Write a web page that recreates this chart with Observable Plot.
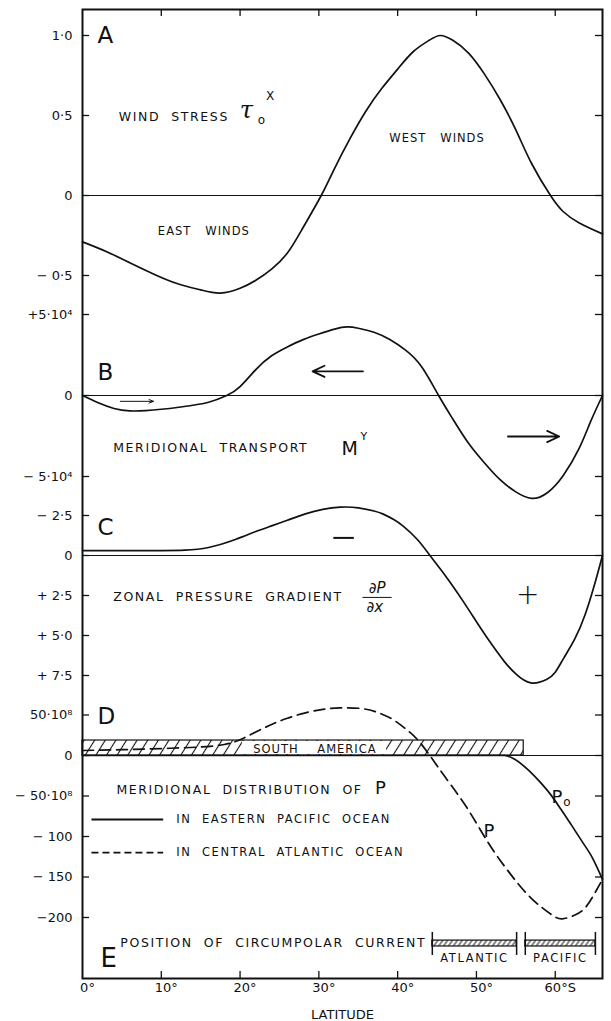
<!DOCTYPE html>
<html><head><meta charset="utf-8">
<script src="https://cdn.jsdelivr.net/npm/d3@7"></script>
<script src="https://cdn.jsdelivr.net/npm/@observablehq/plot@0.6"></script>
<style>
html,body{margin:0;padding:0;background:#fff;}
#chart{position:relative;width:611px;height:1021px;overflow:hidden;}
#chart svg{position:absolute;left:0;top:0;}
#chart text{white-space:pre;}
.ann text{letter-spacing:1.6px;}
.ann2 text{letter-spacing:1px;}
</style></head><body><div id="chart"></div>
<script>
// ---------- shared latitude axis ----------
const latTicks = [0, 10, 20, 30, 40, 50, 60];
const latTickLabels = ["0°", "10°", "20°", "30°", "40°", "50°", "60°S"];

// ---------- A: wind stress ----------
const ticksA = [1, 0.5, 0, -0.5];
const labelsA = ["1·0", "0·5", "0", "− 0·5"];
const latA = [0, 3, 6, 9, 12, 15, 17.5, 20, 22, 24, 26, 28, 30.3, 32, 34, 36, 38, 40, 42, 44, 45.4, 47, 49, 51, 53, 55, 57, 59.4, 61, 63, 66];
const tauA = [-0.29, -0.35, -0.42, -0.49, -0.55, -0.59, -0.61, -0.58, -0.53, -0.46, -0.36, -0.2, 0, 0.17, 0.36, 0.53, 0.67, 0.79, 0.9, 0.97, 1.0, 0.97, 0.89, 0.76, 0.6, 0.41, 0.2, 0, -0.1, -0.17, -0.24];

// ---------- B: meridional transport (10^4) ----------
const ticksB = [5, 0, -5];
const labelsB = ["+5·10⁴", "0", "− 5·10⁴"];
const latB = [0, 2, 4, 6, 8, 10, 12, 14, 16, 18.3, 20, 22, 24, 26, 28, 30, 32, 33.6, 35, 37, 39, 41, 43, 45.2, 47, 49, 51, 53, 55, 57, 59, 61, 63, 64.5, 66];
const transB = [0, -0.45, -0.8, -0.95, -0.93, -0.85, -0.74, -0.6, -0.42, 0, 0.55, 1.6, 2.45, 3.0, 3.45, 3.8, 4.1, 4.23, 4.15, 3.9, 3.45, 2.8, 1.8, 0, -1.45, -2.95, -4.15, -5.2, -5.95, -6.35, -6.0, -4.95, -3.3, -1.6, 0];

// ---------- C: zonal pressure gradient ----------
const ticksC = [-2.5, 0, 2.5, 5, 7.5];
const labelsC = ["− 2·5", "0", "+ 2·5", "+ 5·0", "+ 7·5"];
const latC = [0, 5, 10, 13, 16, 19.4, 22, 24, 26, 28.3, 30.5, 32.7, 35, 37, 38.1, 39.5, 40.7, 42.5, 44.1, 46.1, 48.3, 50.5, 52, 53.5, 55, 56.9, 58.9, 60, 61.1, 62.5, 63.8, 65, 66];
const gradC = [-0.31, -0.31, -0.31, -0.33, -0.5, -1.0, -1.5, -1.85, -2.2, -2.6, -2.88, -3.02, -2.98, -2.78, -2.6, -2.25, -1.83, -1.0, 0, 1.29, 2.85, 4.52, 5.6, 6.6, 7.4, 7.96, 7.75, 7.3, 6.4, 5.2, 3.69, 1.8, 0];

// ---------- D: meridional distribution of P (10^8) ----------
const ticksD = [50, 0, -50, -100, -150, -200];
const labelsD = ["50·10⁸", "0", "− 50·10⁸", "− 100", "− 150", "−200"];
const latAtl = [0, 5, 10, 15, 18, 20, 22, 24, 26, 28.3, 30.5, 32.7, 35.4, 37.5, 39.4, 41, 42.5, 44.3, 46.1, 48.8, 51.5, 54.2, 56.9, 59.5, 60.9, 62.5, 63.8, 64.9, 66];
const pAtl = [6.2, 7.2, 8.6, 10.5, 13.6, 19.5, 29, 38.3, 46, 52.7, 57, 58.8, 58, 53, 44.4, 33, 19.8, -2.9, -27.6, -64.6, -107.8, -144.9, -175.7, -196.3, -201.6, -197, -188, -172, -153];
const latPac = [0, 53.6, 54.9, 56.7, 58, 59.4, 60.7, 62, 63.4, 64.7, 66];
const pPac = [0, 0, -5, -19, -32, -48, -66, -85, -106, -126, -153];
const southAmerica = [0, 56];

// ---------- E: position of circumpolar current ----------
const oceans = ["ATLANTIC", "PACIFIC"];
const currentStart = [44.4, 56.2];
const currentEnd = [55.1, 65.1];

// ---------- layout ----------
const W = 611, H = 1021, ML = 82, MR = 9, MT = 9, MB = 43;
const FW = W - ML - MR, FH = H - MT - MB;
const FONT = "'DejaVu Sans', sans-serif";

function panel(y, marks) {
  return Plot.plot({
    width: W, height: H, marginLeft: ML, marginRight: MR, marginTop: MT, marginBottom: MB,
    x: {domain: [0, 66], axis: null},
    y: {...y, axis: null},
    style: {background: "transparent", fontFamily: FONT, fontSize: "13px", color: "#111", overflow: "visible"},
    marks
  });
}
function yMarks(ticks, labels) {
  return [
    Plot.axisY(ticks, {anchor: "left", tickSize: 0, tickPadding: 10, tickFormat: d => labels[ticks.indexOf(d)], fontSize: 13}),
    Plot.tickY(ticks, {insetRight: FW - 7, strokeWidth: 1.3}),
    Plot.tickY(ticks, {insetLeft: FW - 7, strokeWidth: 1.3})
  ];
}
const txt = (s, o) => Plot.text([s], {text: d => d, fill: "#111", ...o});
const curveW = 1.7;
const CURVE = "natural";

const A = panel({domain: [0, 1], range: [195, 35]}, [
  Plot.frame({strokeWidth: 2}),
  Plot.tickX(latTicks.slice(1), {insetBottom: FH - 7, strokeWidth: 1.3}),
  Plot.tickX(latTicks.slice(1), {insetTop: FH - 7, strokeWidth: 1.3}),
  Plot.axisX(latTicks, {anchor: "bottom", tickSize: 0, tickPadding: 4, dx: 5, fontSize: 13,
    tickFormat: d => latTickLabels[latTicks.indexOf(d)],
    label: "LATITUDE", labelAnchor: "center", labelArrow: "none", labelOffset: 40}),
  ...yMarks(ticksA, labelsA),
  Plot.ruleY([0], {strokeWidth: 1}),
  Plot.line(latA, {x: latA, y: tauA, curve: CURVE, strokeWidth: curveW}),
  txt("A", {x: 1.9, y: 1.0, fontSize: 23, textAnchor: "start"}),
  txt("WIND  STRESS", {x: 4.6, y: 0.49, textAnchor: "start", fontSize: 12.5, className: "ann"}),
  txt("τ", {x: 20.8, y: 0.53, fontSize: 24, fontStyle: "italic", fontFamily: "'DejaVu Serif', serif"}),
  txt("o", {x: 22.7, y: 0.47, fontSize: 12}),
  txt("X", {x: 23.8, y: 0.62, fontSize: 12}),
  txt("WEST   WINDS", {x: 45, y: 0.36, fontSize: 11.5, className: "ann2"}),
  txt("EAST   WINDS", {x: 15.4, y: -0.225, fontSize: 11.5, className: "ann2"})
]);

const B = panel({domain: [0, 5], range: [395, 314]}, [
  ...yMarks(ticksB, labelsB),
  Plot.ruleY([0], {strokeWidth: 1}),
  Plot.line(latB, {x: latB, y: transB, curve: CURVE, strokeWidth: curveW}),
  Plot.arrow([0], {x1: 4.8, x2: 9.0, y1: -0.36, y2: -0.36, strokeWidth: 1, headLength: 7, headAngle: 45}),
  Plot.arrow([0], {x1: 35.6, x2: 29.2, y1: 1.49, y2: 1.49, strokeWidth: 1.8, headLength: 11, headAngle: 50}),
  Plot.arrow([0], {x1: 54, x2: 60.5, y1: -2.53, y2: -2.53, strokeWidth: 1.8, headLength: 11, headAngle: 50}),
  txt("B", {x: 1.9, y: 1.42, fontSize: 23, textAnchor: "start"}),
  txt("MERIDIONAL  TRANSPORT", {x: 3.9, y: -3.27, textAnchor: "start", fontSize: 12.5, className: "ann"}),
  txt("M", {x: 33.9, y: -3.3, fontSize: 19}),
  txt("Y", {x: 35.7, y: -2.5, fontSize: 11})
]);

const C = panel({domain: [0, 7.5], range: [555, 675]}, [
  ...yMarks(ticksC, labelsC),
  Plot.ruleY([0], {strokeWidth: 1}),
  Plot.line(latC, {x: latC, y: gradC, curve: CURVE, strokeWidth: curveW}),
  txt("C", {x: 1.9, y: -1.75, fontSize: 23, textAnchor: "start"}),
  txt("ZONAL  PRESSURE  GRADIENT", {x: 3.9, y: 2.6, textAnchor: "start", fontSize: 12.5, className: "ann"}),
  txt("∂P", {x: 37.4, y: 2.05, fontSize: 15, fontStyle: "italic"}),
  Plot.ruleY([2.62], {x1: 35.6, x2: 39.3, strokeWidth: 1}),
  txt("∂x", {x: 37.1, y: 3.25, fontSize: 15, fontStyle: "italic"}),
  Plot.ruleY([-1.1], {x1: 31.9, x2: 34.5, strokeWidth: 2}),
  txt("+", {x: 56.5, y: 2.5, fontSize: 28, fontWeight: 300})
]);

const D = panel({domain: [0, -200], range: [755, 917]}, [
  ...yMarks(ticksD, labelsD),
  Plot.ruleY([0], {strokeWidth: 1}),
  Plot.rect([0], {x1: southAmerica[0], x2: southAmerica[1], y1: 0, y2: 18.5, fill: "url(#hatchD)", stroke: "#111", strokeWidth: 1.2}),
  Plot.rect([0], {x1: 20.3, x2: 38.6, y1: 1.2, y2: 17.3, fill: "white"}),
  txt("SOUTH    AMERICA", {x: 29.5, y: 7.6, fontSize: 11.5, className: "ann2"}),
  Plot.line(latAtl, {x: latAtl, y: pAtl, curve: CURVE, strokeWidth: curveW, strokeDasharray: "11,6"}),
  Plot.line(latPac, {x: latPac, y: pPac, curve: "monotone-x", strokeWidth: curveW}),
  txt("D", {x: 1.9, y: 48, fontSize: 23, textAnchor: "start"}),
  txt("MERIDIONAL  DISTRIBUTION  OF", {x: 4.3, y: -42, textAnchor: "start", fontSize: 12.5, className: "ann"}),
  txt("P", {x: 37.8, y: -40, fontSize: 18}),
  Plot.ruleY([-79], {x1: 1.2, x2: 10.3, strokeWidth: 1.8}),
  Plot.ruleY([-120], {x1: 1.2, x2: 10.3, strokeWidth: 1.8, strokeDasharray: "7,4"}),
  txt("IN  EASTERN  PACIFIC  OCEAN", {x: 11.9, y: -79, textAnchor: "start", fontSize: 11.5, className: "ann"}),
  txt("IN  CENTRAL  ATLANTIC  OCEAN", {x: 11.9, y: -120, textAnchor: "start", fontSize: 11.5, className: "ann"}),
  txt("P", {x: 51.6, y: -93, fontSize: 18}),
  txt("P", {x: 60.2, y: -52, fontSize: 18}),
  txt("o", {x: 61.5, y: -58, fontSize: 12})
]);

const E = panel({domain: [0, 1], range: [978, 930]}, [
  Plot.rect(oceans, {x1: currentStart, x2: currentEnd, y1: 0.667, y2: 0.79, fill: "url(#hatchE)", stroke: "#111", strokeWidth: 1.2}),
  Plot.ruleX(currentStart, {y1: 0.48, y2: 0.96, strokeWidth: 1.5}),
  Plot.ruleX(currentEnd, {y1: 0.48, y2: 0.96, strokeWidth: 1.5}),
  Plot.text(oceans, {x: oceans.map((d, i) => (currentStart[i] + currentEnd[i]) / 2), y: 0.43, text: d => d, fontSize: 11.5, fill: "#111", className: "ann"}),
  txt("E", {x: 2.3, y: 0.42, fontSize: 26, textAnchor: "start"}),
  txt("POSITION  OF  CIRCUMPOLAR  CURRENT", {x: 4.8, y: 0.73, textAnchor: "start", fontSize: 12.5, className: "ann"})
]);

function addHatch(svg, id, size, angle, sw) {
  const ns = "http://www.w3.org/2000/svg";
  const defs = document.createElementNS(ns, "defs");
  const pat = document.createElementNS(ns, "pattern");
  pat.setAttribute("id", id);
  pat.setAttribute("patternUnits", "userSpaceOnUse");
  pat.setAttribute("width", size);
  pat.setAttribute("height", size);
  pat.setAttribute("patternTransform", `rotate(${angle})`);
  const line = document.createElementNS(ns, "line");
  line.setAttribute("x1", size / 2); line.setAttribute("x2", size / 2);
  line.setAttribute("y1", 0); line.setAttribute("y2", size);
  line.setAttribute("stroke", "#111"); line.setAttribute("stroke-width", sw);
  pat.appendChild(line); defs.appendChild(pat);
  svg.insertBefore(defs, svg.firstChild);
}
addHatch(D, "hatchD", 9, 32, 1.1);
addHatch(E, "hatchE", 4, 35, 1);

const chart = document.getElementById("chart");
for (const s of [A, B, C, D, E]) chart.appendChild(s);
</script>
</body></html>
